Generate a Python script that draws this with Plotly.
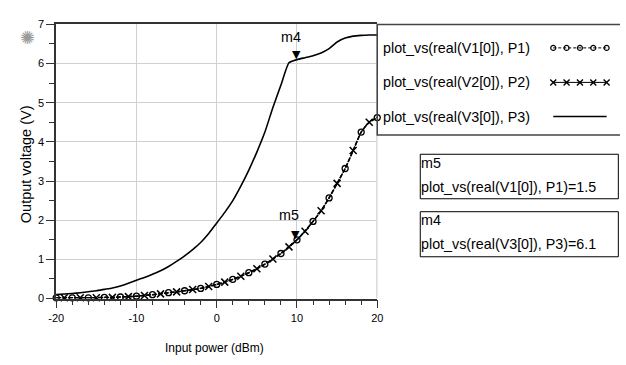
import plotly.graph_objects as go

# ---------------- data ----------------
P1 = [-20, -19, -18, -17, -16, -15, -14, -13, -12, -11, -10, -9, -8, -7, -6, -5, -4, -3, -2, -1,
      0, 1, 2, 3, 4, 5, 6, 7, 8, 9, 10, 11, 12, 13, 14, 15, 16, 17, 18, 19, 20]
P2 = list(P1)
P3 = list(P1)
V1 = [0.02, 0.02, 0.02, 0.02, 0.02, 0.02, 0.03, 0.03, 0.04, 0.05, 0.06, 0.08, 0.10, 0.12, 0.15, 0.17,
      0.20, 0.23, 0.26, 0.31, 0.36, 0.42, 0.49, 0.57, 0.66, 0.76, 0.88, 1.01, 1.15, 1.32, 1.50, 1.72,
      1.97, 2.24, 2.57, 2.94, 3.32, 3.78, 4.25, 4.50, 4.62]
V2 = [0.02, 0.02, 0.02, 0.02, 0.02, 0.02, 0.03, 0.03, 0.04, 0.05, 0.06, 0.08, 0.10, 0.12, 0.15, 0.17,
      0.20, 0.23, 0.26, 0.31, 0.36, 0.42, 0.49, 0.57, 0.66, 0.76, 0.88, 1.01, 1.15, 1.32, 1.50, 1.72,
      1.97, 2.24, 2.57, 2.94, 3.32, 3.78, 4.25, 4.50, 4.62]
V3 = [0.10, 0.115, 0.13, 0.15, 0.175, 0.20, 0.235, 0.27, 0.32, 0.39, 0.47, 0.54, 0.62, 0.71, 0.82,
      0.95, 1.09, 1.25, 1.43, 1.66, 1.93, 2.20, 2.50, 2.87, 3.28, 3.74, 4.25, 4.88, 5.45, 6.02, 6.10,
      6.15, 6.20, 6.27, 6.38, 6.55, 6.65, 6.70, 6.72, 6.73, 6.73]

series_names = ["plot_vs(real(V1[0]), P1)", "plot_vs(real(V2[0]), P2)", "plot_vs(real(V3[0]), P3)"]
m5_name, m5_x, m5_y = "m5", 10, 1.5
m4_name, m4_x, m4_y = "m4", 10, 6.1
x_ticks = [-20, -10, 0, 10, 20]
y_ticks = [0, 1, 2, 3, 4, 5, 6, 7]

# ---------------- layout helpers ----------------
W, H = 626, 365
PX_L, PX_R, PX_T, PX_B = 49.3, 377.7, 19.0, 302.5
FONT = "Liberation Sans Narrow, Arial Narrow, Liberation Sans, Arial, sans-serif"
INK = "#000000"

fig = go.Figure()

# main curves
fig.add_trace(go.Scatter(x=P1, y=V1, mode="lines", line=dict(color=INK, width=1.5, dash="4px,2px", shape="spline", smoothing=0.5),
                         showlegend=False, xaxis="x", yaxis="y"))
fig.add_trace(go.Scatter(x=P2, y=V2, mode="lines", line=dict(color=INK, width=1.5, dash="5px,1px", shape="spline", smoothing=0.5),
                         showlegend=False, xaxis="x", yaxis="y"))
fig.add_trace(go.Scatter(x=P3, y=V3, mode="lines", line=dict(color=INK, width=1.6, shape="spline", smoothing=0.5),
                         showlegend=False, xaxis="x", yaxis="y"))
# trace markers (subset of the data points)
fig.add_trace(go.Scatter(x=P1[::2], y=V1[::2], mode="markers",
                         marker=dict(symbol="circle-open", size=6, color=INK, line=dict(width=1.3)),
                         showlegend=False, cliponaxis=False, xaxis="x", yaxis="y"))
fig.add_trace(go.Scatter(x=P2[1::2], y=V2[1::2], mode="markers",
                         marker=dict(symbol="x-thin-open", size=7, color=INK, line=dict(width=1.5, color=INK)),
                         showlegend=False, cliponaxis=False, xaxis="x", yaxis="y"))

# ---------------- overlay pixel axes for legend samples ----------------
lx0, lx1 = 557.7, 612.3
rows_y = [43.3, 79.0, 114.3]
sx = [lx0 + i * (lx1 - lx0) / 4 for i in range(5)]
fig.add_trace(go.Scatter(x=sx, y=[rows_y[0]] * 5, mode="lines+markers",
                         line=dict(color=INK, width=1, dash="3px,2px"),
                         marker=dict(symbol="circle-open", size=5, color=INK, line=dict(width=1.2)),
                         showlegend=False, cliponaxis=False, xaxis="x2", yaxis="y2", hoverinfo="skip"))
fig.add_trace(go.Scatter(x=sx, y=[rows_y[1]] * 5, mode="lines+markers",
                         line=dict(color=INK, width=1),
                         marker=dict(symbol="x-thin-open", size=6, color=INK, line=dict(width=1.4, color=INK)),
                         showlegend=False, cliponaxis=False, xaxis="x2", yaxis="y2", hoverinfo="skip"))
fig.add_trace(go.Scatter(x=[lx0, lx1], y=[rows_y[2]] * 2, mode="lines",
                         line=dict(color=INK, width=1.5),
                         showlegend=False, cliponaxis=False, xaxis="x2", yaxis="y2", hoverinfo="skip"))

shapes = []
# right edge gray line at x=20
shapes.append(dict(type="line", xref="x", yref="y", x0=20, x1=20, y0=0, y1=7, line=dict(color="#999999", width=1.2), layer="below"))
# legend box
shapes.append(dict(type="rect", xref="x2", yref="y2", x0=377.7, x1=640, y0=19, y1=133.5, line=dict(color="#444444", width=1.5),
                   fillcolor="rgba(0,0,0,0)"))
# marker readout boxes
shapes.append(dict(type="rect", xref="x2", yref="y2", x0=421.7, x1=624.3, y0=153.3, y1=199.3, line=dict(color=INK, width=1)))
shapes.append(dict(type="rect", xref="x2", yref="y2", x0=421.7, x1=624.3, y0=212.7, y1=259.3, line=dict(color=INK, width=1)))

TXT = 14.3
annotations = []
for name, yy in zip(series_names, rows_y):
    annotations.append(dict(xref="x2", yref="y2", x=382, y=yy, text=name, showarrow=False, xanchor="left", yanchor="middle",
                            font=dict(family=FONT, size=TXT, color=INK)))
annotations += [
    dict(xref="x2", yref="y2", x=420, y=162, text=m5_name, showarrow=False, xanchor="left", yanchor="middle",
         font=dict(family=FONT, size=TXT, color=INK)),
    dict(xref="x2", yref="y2", x=420, y=187, text=f"{series_names[0]}={m5_y}", showarrow=False, xanchor="left", yanchor="middle",
         font=dict(family=FONT, size=TXT, color=INK)),
    dict(xref="x2", yref="y2", x=420, y=221.5, text=m4_name, showarrow=False, xanchor="left", yanchor="middle",
         font=dict(family=FONT, size=TXT, color=INK)),
    dict(xref="x2", yref="y2", x=420, y=246.5, text=f"{series_names[2]}={m4_y}", showarrow=False, xanchor="left", yanchor="middle",
         font=dict(family=FONT, size=TXT, color=INK)),
    # marker triangles and labels
    dict(xref="x", yref="y", x=m4_x, y=m4_y, text="▼", showarrow=False, yanchor="bottom", yshift=-3,
         font=dict(family="DejaVu Sans", size=11, color=INK)),
    dict(xref="x", yref="y", x=m4_x, y=m4_y, text=m4_name, showarrow=False, yanchor="bottom", xshift=-6, yshift=13,
         font=dict(family=FONT, size=TXT, color=INK)),
    dict(xref="x", yref="y", x=m5_x, y=m5_y, text="▼", showarrow=False, yanchor="bottom", xshift=-1, yshift=-3,
         font=dict(family="DejaVu Sans", size=11, color=INK)),
    dict(xref="x", yref="y", x=m5_x, y=m5_y, text=m5_name, showarrow=False, yanchor="bottom", xshift=-8, yshift=15,
         font=dict(family=FONT, size=TXT, color=INK)),
    # axis titles
    dict(xref="x2", yref="y2", x=18, y=164, text="Output voltage (V)", showarrow=False, textangle=-90,
         font=dict(family=FONT, size=14.5, color=INK)),
    dict(xref="x2", yref="y2", x=211, y=354, text="Input power (dBm)", showarrow=False,
         font=dict(family=FONT, size=12, color=INK)),
    # logo
    dict(xref="x2", yref="y2", x=20, y=33, text="✺", showarrow=False,
         font=dict(family="DejaVu Sans", size=18, color="#9a9a9a")),
]

fig.update_layout(
    width=W, height=H, autosize=False,
    margin=dict(l=0, r=0, t=0, b=0),
    paper_bgcolor="white", plot_bgcolor="rgba(0,0,0,0)",
    showlegend=False,
    shapes=shapes, annotations=annotations,
    xaxis=dict(domain=[PX_L / W, PX_R / W], range=[-20, 20], tickvals=x_ticks, ticktext=[str(v) for v in x_ticks],
               showgrid=True, gridcolor="#d0d0d0", gridwidth=1, zeroline=False,
               showline=True, linecolor="#333333", linewidth=1.5, mirror=True,
               ticks="outside", ticklen=8, tickcolor="#333333", tickwidth=1,
               minor=dict(dtick=2, tick0=0, ticks="outside", ticklen=5, tickcolor="#333333", showgrid=False),
               tickfont=dict(family=FONT, size=11, color=INK), anchor="y", fixedrange=True),
    yaxis=dict(domain=[(H - PX_B) / H, (H - PX_T) / H], range=[0, 7], tickvals=y_ticks,
               showgrid=True, gridcolor="#d0d0d0", gridwidth=1, zeroline=False,
               showline=True, linecolor="#333333", linewidth=1.5,
               ticks="outside", ticklen=8, tickcolor="#333333", tickwidth=1,
               minor=dict(dtick=0.5, tick0=0, ticks="outside", ticklen=5, tickcolor="#333333", showgrid=False),
               tickfont=dict(family=FONT, size=11, color=INK), anchor="x", fixedrange=True),
    xaxis2=dict(domain=[0, 1], range=[0, W], visible=False, anchor="y2", fixedrange=True),
    yaxis2=dict(domain=[0, 1], range=[H, 0], visible=False, anchor="x2", fixedrange=True),
)

fig.write_html("out.html")
